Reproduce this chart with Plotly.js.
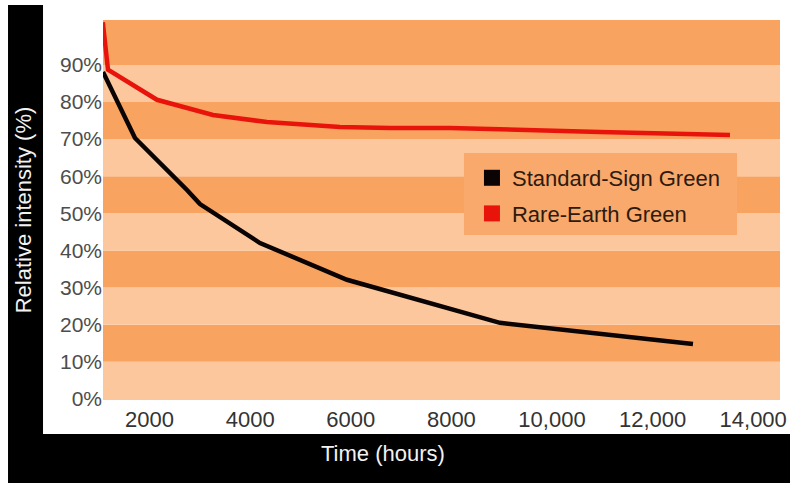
<!DOCTYPE html>
<html>
<head>
<meta charset="utf-8">
<script src="https://cdn.plot.ly/plotly-3.0.1.min.js"></script>
<style>
  html, body { margin: 0; padding: 0; background: #ffffff; }
  #chart { width: 790px; height: 483px; }
</style>
</head>
<body>
<div id="chart"></div>
<script>
// ---- data ----
const standardHours = [1074, 1710, 2744, 3002, 4195, 5924, 8966, 12803];
const standardPct   = [88.1, 70.3, 56.3, 52.5, 42.0, 32.1, 20.5, 14.8];

const rareHours = [1070, 1173, 2147, 3260, 4334, 5785, 6779, 7972, 10954, 13539];
const rarePct   = [101.5, 88.7, 80.6, 76.5, 74.6, 73.3, 73.0, 73.0, 71.9, 71.1];

const xTickVals  = [2000, 4000, 6000, 8000, 10000, 12000, 14000];
const xTickText  = ["2000", "4000", "6000", "8000", "10,000", "12,000", "14,000"];
const yTickVals  = [0, 10, 20, 30, 40, 50, 60, 70, 80, 90];
const yTickText  = ["0%", "10%", "20%", "30%", "40%", "50%", "60%", "70%", "80%", "90%"];

const seriesNames = ["Standard-Sign Green", "Rare-Earth Green"];
const xTitle = "Time (hours)";
const yTitle = "Relative intensity (%)";

// ---- styling ----
const FONT = "Liberation Sans, Arial, Helvetica, sans-serif";
const DARK_BAND = "#f9a361";
const LIGHT_BAND = "#fcc79c";
const X_RANGE = [1074, 14533];
const Y_RANGE = [-0.3, 102.1];

const traces = [
  {
    x: standardHours, y: standardPct, mode: "lines", showlegend: false,
    line: { color: "#0a0404", width: 4.5 }, hoverinfo: "skip"
  },
  {
    x: rareHours, y: rarePct, mode: "lines", showlegend: false,
    line: { color: "#e8140c", width: 4.5 }, hoverinfo: "skip"
  },
  {
    x: [null], y: [null], mode: "markers", name: seriesNames[0], legendgroup: "a",
    marker: { symbol: "square", size: 16, color: "#0a0404" }
  },
  {
    x: [null], y: [null], mode: "markers", name: seriesNames[1], legendgroup: "b",
    marker: { symbol: "square", size: 16, color: "#e8140c" }
  }
];

const shapes = [
  // black frame
  { type: "rect", xref: "paper", yref: "paper", layer: "below",
    x0: -0.1403, x1: 1.03, y0: 1.0395, y1: -0.25,
    fillcolor: "#000000", line: { width: 0 } },
  // white panel
  { type: "rect", xref: "paper", yref: "paper", layer: "below",
    x0: -0.0886, x1: 1.03, y0: 1.1, y1: -0.0895,
    fillcolor: "#ffffff", line: { width: 0 } }
];
// alternating bands between y ticks
yTickVals.forEach((v, i) => {
  const y0 = i === 0 ? Y_RANGE[0] : v;
  const y1 = i === yTickVals.length - 1 ? Y_RANGE[1] : yTickVals[i + 1];
  shapes.push({
    type: "rect", xref: "paper", yref: "y", layer: "below",
    x0: 0, x1: 1, y0: y0, y1: y1,
    fillcolor: i % 2 === 0 ? LIGHT_BAND : DARK_BAND, line: { width: 0 }
  });
});
// legend box background
shapes.push({
  type: "rect", xref: "paper", yref: "paper", layer: "below",
  x0: 0.5332, x1: 0.9365, y0: 0.4342, y1: 0.65,
  fillcolor: "#f8a96b", line: { width: 0 }
});

const layout = {
  width: 790, height: 483,
  margin: { l: 103, r: 10, t: 20, b: 83 },
  paper_bgcolor: "#ffffff",
  plot_bgcolor: LIGHT_BAND,
  showlegend: true,
  legend: {
    x: 0.545, y: 0.6395, xanchor: "left", yanchor: "top",
    bgcolor: "rgba(0,0,0,0)", borderwidth: 0,
    font: { family: FONT, size: 22, color: "#2e1a0e" },
    tracegroupgap: 4, itemsizing: "trace"
  },
  xaxis: {
    range: X_RANGE, showgrid: false, zeroline: false, showline: false,
    tickmode: "array", tickvals: xTickVals, ticktext: xTickText,
    ticks: "", ticklabelstandoff: 4,
    tickfont: { family: FONT, size: 22, color: "#333333" },
    fixedrange: true
  },
  yaxis: {
    range: Y_RANGE, showgrid: false, zeroline: false, showline: false,
    tickmode: "array", tickvals: yTickVals, ticktext: yTickText,
    ticks: "", ticklabelstandoff: 0,
    tickfont: { family: FONT, size: 21, color: "#4d4d4d" },
    title: { text: yTitle, standoff: 22,
             font: { family: FONT, size: 22, color: "#f2f2f2" } },
    fixedrange: true
  },
  annotations: [
    { text: xTitle, xref: "paper", yref: "paper", x: 0.4136, y: -0.1395,
      xanchor: "center", yanchor: "middle", showarrow: false,
      font: { family: FONT, size: 22, color: "#f2f2f2" } }
  ],
  shapes: shapes
};

Plotly.newPlot("chart", traces, layout, { displayModeBar: false, staticPlot: true });
</script>
</body>
</html>
